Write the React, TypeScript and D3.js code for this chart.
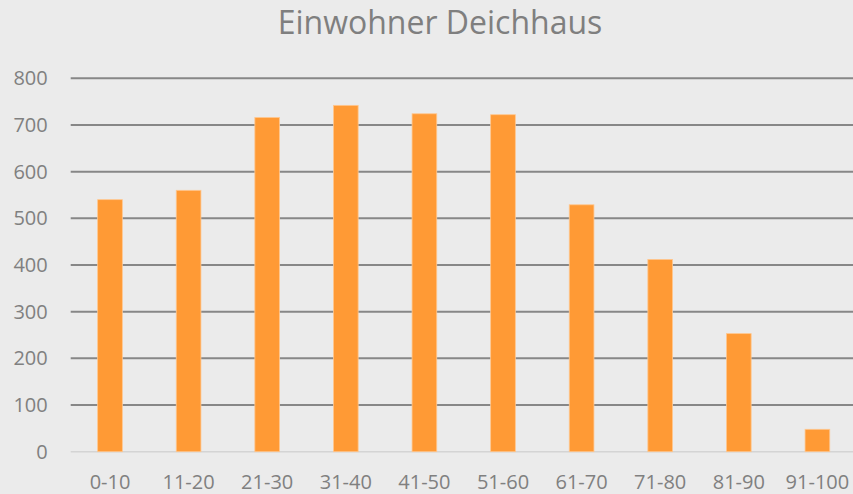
import React from "react";
import * as d3 from "d3";

const categories = ["0-10", "11-20", "21-30", "31-40", "41-50", "51-60", "61-70", "71-80", "81-90", "91-100"];
const values = [540, 560, 716, 742, 724, 722, 529, 412, 253, 48];
const yTicks = [0, 100, 200, 300, 400, 500, 600, 700, 800];
const title = "Einwohner Deichhaus";

const W = 853;
const H = 494;
const FONT = "'Open Sans', sans-serif";

export default function App() {
  const x = d3.scaleBand<string>().domain(categories).range([70.7, 856.7]).paddingInner(0.686).paddingOuter(0.343);
  const y = d3.scaleLinear().domain([0, 800]).range([451.7, 78.3]);
  const bw = x.bandwidth();

  return (
    <svg width={W} height={H} style={{ position: "absolute", left: 0, top: 0, background: "#ebebeb" }}>
      <rect x={0} y={0} width={W} height={H} fill="#ebebeb" />
      <text x={440} y={34} textAnchor="middle" fontFamily={FONT} fontSize={32} fill="#7f7f7f">
        {title}
      </text>
      {yTicks.map((t) => (
        <g key={t}>
          {t !== 0 && (
            <line x1={70.7} x2={W} y1={y(t)} y2={y(t)} stroke="#878787" strokeWidth={2} />
          )}
          <text x={47.7} y={y(t)} dy="0.35em" textAnchor="end" fontFamily={FONT} fontSize={20} fill="#808080">
            {t}
          </text>
        </g>
      ))}
      <line x1={70.7} x2={W} y1={y(0)} y2={y(0)} stroke="#d4d4d4" strokeWidth={1.5} />
      {categories.map((c, i) => {
        const cx = (x(c) as number) + bw / 2;
        return (
          <g key={c}>
            <rect
              x={x(c)}
              y={y(values[i])}
              width={bw}
              height={y(0) - y(values[i])}
              fill="#ff9a35"
              stroke="#ffc78f"
              strokeWidth={0.8}
            />
            <text x={cx} y={489} textAnchor="middle" fontFamily={FONT} fontSize={20} fill="#808080">
              {c}
            </text>
          </g>
        );
      })}
    </svg>
  );
}
